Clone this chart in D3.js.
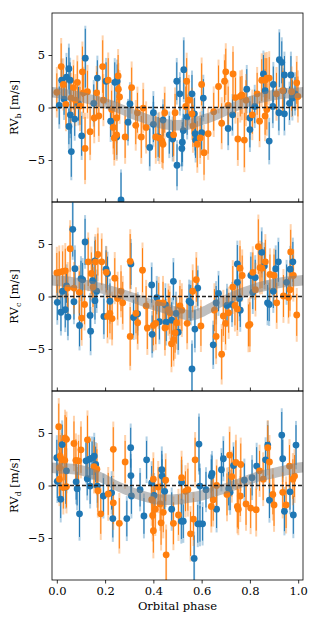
<!DOCTYPE html>
<html lang="en">
<head>
	<meta charset="UTF-8">
	<style>
	body { margin: 0; background: white; }
	svg text { font-family: "DejaVu Serif", "Liberation Serif", serif; }
	</style>
	<script src="https://d3js.org/d3.v7.min.js"></script>
	<title>RV phase folds</title>
</head>
<body>
	<div id="chart"></div>
	<script>
		// Points are [orbital phase, RV in m/s, formal error]
		const blueB = [
			[0.01,0.2,1.8],[0.02,2.6,1.6],[0.04,2.9,1.9],[0.05,3.7,2.0],[0.055,2.6,1.7],[0.03,0.8,1.5],
			[0.056,-0.7,1.8],[0.05,-1.8,1.7],[0.074,-1.1,1.6],[0.06,-4.2,2.4],[0.103,-2.7,1.9],[0.118,4.7,2.8],
			[0.09,0.35,1.6],[0.153,0.4,1.8],[0.168,2.8,1.7],[0.204,2.5,1.8],[0.223,-1.3,1.5],[0.24,2.4,1.9],
			[0.25,2.5,1.6],[0.248,-2.8,1.7],[0.266,-8.8,2.6],[0.295,-1.4,1.8],[0.303,0.35,1.6],[0.385,-3.8,1.8],
			[0.4,-0.5,1.6],[0.4,-1.6,1.7],[0.42,-2.8,1.9],[0.44,-1.2,1.5],[0.466,-2.6,1.8],[0.48,-3.0,1.7],
			[0.498,-5.5,2.0],[0.497,2.5,1.8],[0.51,1.3,1.6],[0.518,-3.9,1.7],[0.52,-3.3,1.9],[0.526,3.6,2.8],
			[0.524,-2.2,1.6],[0.54,-0.9,1.7],[0.56,1.3,1.8],[0.573,-2.5,1.6],[0.57,-0.6,1.5],[0.575,-3.1,1.7],
			[0.6,-2.4,1.6],[0.607,0.9,1.8],[0.71,-2.0,1.6],[0.728,-0.7,1.5],[0.787,1.75,1.9],[0.8,-2.1,1.7],
			[0.8,-1.0,1.6],[0.82,0.1,1.6],[0.856,3.2,1.8],[0.863,1.6,1.6],[0.88,-3.2,1.8],[0.897,2.2,1.7],
			[0.895,0.1,1.6],[0.922,4.55,2.6],[0.932,4.3,2.0],[0.943,3.1,1.8],[0.94,1.6,1.7],[0.943,-0.6,1.6],
			[0.92,-0.5,1.7],[0.97,3.1,1.8],[0.964,0.4,1.6],[0.976,0.9,1.7],[0.987,1.3,1.6]
		];
		const orangeB = [
			[0.0,1.45,1.8],[0.018,3.9,2.2],[0.027,2.2,1.9],[0.038,0.3,2.0],[0.059,0.9,1.8],[0.069,1.9,2.1],
			[0.077,0.7,1.9],[0.085,2.4,2.0],[0.096,0.15,1.8],[0.106,3.4,2.4],[0.11,1.4,1.9],[0.117,-3.9,3.0],
			[0.127,1.5,2.0],[0.138,-2.3,2.2],[0.155,-1.0,1.8],[0.165,1.4,2.0],[0.174,-0.8,1.9],[0.19,3.9,2.5],
			[0.193,0.7,1.9],[0.213,2.6,2.1],[0.227,-0.2,1.8],[0.234,-1.9,2.0],[0.238,-2.9,2.1],[0.248,-2.6,1.9],
			[0.254,3.0,2.0],[0.255,1.75,1.9],[0.26,1.0,2.0],[0.248,-1.0,1.8],[0.283,-2.8,2.0],[0.31,1.9,1.9],
			[0.327,-1.7,1.8],[0.334,-0.5,1.9],[0.35,-2.8,2.0],[0.358,-0.05,1.8],[0.37,-1.9,1.9],[0.41,-2.8,2.0],
			[0.425,-2.9,1.9],[0.436,-3.2,2.0],[0.44,-3.5,1.8],[0.447,-0.5,1.9],[0.49,-0.5,1.8],[0.484,-2.6,2.0],
			[0.538,2.5,2.2],[0.534,0.1,1.9],[0.547,0.7,1.8],[0.56,-0.6,1.9],[0.564,-1.75,2.0],[0.582,-3.5,2.2],
			[0.594,-2.9,1.9],[0.6,2.2,2.0],[0.61,-4.3,2.1],[0.627,-2.5,1.9],[0.65,-0.4,1.8],[0.67,2.0,2.0],
			[0.683,-1.5,1.9],[0.695,2.5,2.0],[0.7,3.4,2.2],[0.71,0.2,1.8],[0.73,3.2,2.1],[0.74,0.95,1.9],
			[0.75,-3.0,2.0],[0.76,1.05,1.9],[0.767,1.2,1.8],[0.777,-3.1,2.6],[0.784,0.7,1.9],[0.81,-0.7,1.8],
			[0.83,1.3,2.0],[0.84,-1.3,1.9],[0.849,2.6,2.0],[0.863,2.6,2.1],[0.87,2.8,1.9],[0.88,2.8,2.0],
			[0.863,-0.8,1.8],[0.87,-0.2,1.9],[0.91,1.3,2.0],[0.936,1.6,1.9],[0.973,1.5,1.8],[0.994,2.35,2.0],
			[0.999,1.05,1.9]
		];
		const blueC = [
			[0.002,-0.55,1.7],[0.017,-1.5,1.8],[0.024,0.5,1.6],[0.035,-1.25,1.7],[0.046,-1.95,1.8],[0.04,1.0,1.6],
			[0.066,6.4,2.6],[0.071,-0.5,1.7],[0.075,2.65,1.8],[0.094,-2.75,2.0],[0.1,1.7,1.7],[0.117,5.2,2.2],
			[0.107,1.6,1.6],[0.138,-1.8,1.7],[0.14,-3.3,1.9],[0.148,1.5,1.6],[0.158,-0.4,1.8],[0.165,0.5,1.6],
			[0.158,3.4,1.9],[0.195,-1.9,1.7],[0.204,2.6,1.8],[0.21,2.2,1.6],[0.22,-0.45,1.7],[0.307,3.1,2.0],
			[0.318,-2.0,1.7],[0.335,-1.65,1.6],[0.393,1.1,1.7],[0.395,-3.6,1.8],[0.414,-0.1,1.6],[0.425,-2.4,1.7],
			[0.45,-0.8,1.6],[0.453,-2.45,1.8],[0.476,-2.25,1.7],[0.483,1.45,1.8],[0.494,-1.6,1.6],[0.503,-3.4,1.7],
			[0.548,-0.45,1.6],[0.555,-0.6,1.7],[0.56,-6.9,2.4],[0.572,-3.1,1.8],[0.584,0.8,1.7],[0.648,-4.6,1.9],
			[0.66,-0.6,1.6],[0.67,0.3,1.7],[0.705,-0.85,1.6],[0.726,-0.75,1.7],[0.748,3.1,1.8],[0.748,1.35,1.6],
			[0.757,-0.2,1.7],[0.76,-1.3,1.6],[0.804,2.0,1.8],[0.812,0.4,1.6],[0.822,1.8,1.7],[0.849,4.2,2.0],
			[0.86,2.9,1.8],[0.873,-0.6,1.7],[0.88,-0.75,1.6],[0.907,2.65,1.8],[0.918,3.3,1.9],[0.897,0.5,1.6],
			[0.952,1.35,1.7],[0.967,2.6,1.8],[0.978,3.3,1.9]
		];
		const orangeC = [
			[0.0,2.25,1.9],[0.01,2.3,2.0],[0.024,2.4,1.9],[0.035,2.45,2.1],[0.045,0.8,1.9],[0.055,4.55,2.2],
			[0.071,0.8,1.9],[0.093,0.4,2.0],[0.103,-2.05,2.1],[0.115,-0.75,1.9],[0.13,3.3,2.3],[0.143,2.2,2.0],
			[0.15,0.9,1.9],[0.16,3.3,2.1],[0.17,4.0,2.0],[0.186,3.3,2.2],[0.205,2.3,1.9],[0.21,-1.9,2.0],
			[0.22,-1.6,1.9],[0.229,-2.1,2.0],[0.24,1.75,1.9],[0.252,-0.2,2.0],[0.266,0.5,1.9],[0.273,-0.6,2.0],
			[0.304,3.35,2.6],[0.304,-3.8,2.8],[0.328,-1.6,1.9],[0.335,-2.5,2.0],[0.355,2.5,2.1],[0.37,-0.9,1.9],
			[0.375,-3.0,2.0],[0.4,-2.75,1.9],[0.41,-2.55,2.0],[0.422,-0.6,1.9],[0.44,-0.6,2.0],[0.448,-3.0,2.1],
			[0.462,-1.25,1.9],[0.468,-1.55,2.0],[0.475,-4.5,2.2],[0.484,-4.1,2.0],[0.49,-3.45,1.9],[0.496,-2.5,2.0],
			[0.51,-0.9,1.9],[0.518,-1.3,2.0],[0.54,-2.55,1.9],[0.563,0.5,2.0],[0.578,1.6,2.1],[0.597,-2.8,1.9],
			[0.653,-1.3,2.0],[0.66,-3.8,2.1],[0.683,-5.5,2.4],[0.69,-1.85,1.9],[0.699,-2.55,2.0],[0.712,-1.55,1.9],
			[0.729,0.9,2.0],[0.738,-0.85,1.9],[0.748,-1.2,2.0],[0.759,2.7,2.1],[0.768,2.0,1.9],[0.794,-2.75,2.0],
			[0.8,-2.65,2.1],[0.812,2.3,1.9],[0.823,0.65,2.0],[0.835,4.75,2.6],[0.842,2.75,2.0],[0.85,2.7,1.9],
			[0.864,3.3,2.1],[0.883,2.1,1.9],[0.9,2.0,2.0],[0.911,-0.6,1.9],[0.939,0.05,2.0],[0.96,-0.1,1.9],
			[0.966,0.65,2.0],[0.969,4.25,2.1],[0.98,2.0,1.9],[0.994,-1.75,2.0]
		];
		const blueD = [
			[0.0,2.65,1.7],[0.002,0.4,1.6],[0.016,-1.3,1.8],[0.022,3.9,1.9],[0.04,1.4,1.7],[0.037,-0.15,1.6],
			[0.08,0.35,1.7],[0.084,-0.3,1.6],[0.094,-2.7,2.2],[0.121,2.35,1.7],[0.126,0.65,1.6],[0.135,2.5,1.8],
			[0.138,-0.05,1.7],[0.146,2.6,1.6],[0.155,2.8,1.8],[0.161,2.0,1.7],[0.168,-0.05,1.6],[0.193,-1.0,1.7],
			[0.227,-0.7,1.6],[0.232,-3.15,1.8],[0.29,-3.15,1.7],[0.306,3.6,1.9],[0.307,0.95,1.6],[0.309,-1.0,1.7],
			[0.345,-0.4,1.6],[0.361,-2.9,1.7],[0.372,2.45,1.8],[0.393,0.25,1.6],[0.403,-0.95,1.7],[0.435,1.5,1.8],
			[0.436,0.9,1.6],[0.447,-0.55,1.7],[0.476,-2.25,1.6],[0.516,-3.4,1.7],[0.524,-3.4,1.6],[0.517,0.3,1.7],
			[0.569,-6.95,2.2],[0.589,3.95,2.6],[0.593,-0.05,1.7],[0.584,-3.65,1.8],[0.593,-3.65,1.7],[0.604,-3.65,1.6],
			[0.618,-0.4,1.7],[0.64,0.9,1.6],[0.643,1.15,1.7],[0.662,-2.25,1.8],[0.682,1.5,1.6],[0.69,2.55,1.7],
			[0.712,-0.3,1.6],[0.718,-0.65,1.7],[0.732,1.9,1.8],[0.777,0.5,1.6],[0.809,0.75,1.7],[0.828,1.85,1.8],
			[0.865,2.45,1.7],[0.874,3.85,1.9],[0.881,-1.4,1.7],[0.932,4.8,2.2],[0.936,2.55,1.8],[0.943,-2.45,1.9],
			[0.966,-0.6,1.7],[0.98,-2.8,1.8],[0.991,3.85,1.9]
		];
		const orangeD = [
			[0.008,5.6,2.2],[0.014,2.8,2.0],[0.011,1.7,1.9],[0.011,0.6,2.0],[0.02,2.5,1.9],[0.027,-0.2,2.0],
			[0.034,4.5,2.2],[0.04,4.4,2.1],[0.033,2.4,1.9],[0.04,-0.1,2.0],[0.071,4.0,2.1],[0.079,2.4,2.0],
			[0.09,2.35,1.9],[0.1,3.4,2.2],[0.127,4.35,2.3],[0.154,1.8,2.0],[0.166,1.55,1.9],[0.17,-0.5,2.0],
			[0.182,-2.7,1.9],[0.213,-0.8,2.0],[0.234,3.45,2.1],[0.234,-1.65,2.0],[0.259,-3.6,2.4],[0.283,2.25,2.0],
			[0.393,-1.35,1.9],[0.4,0.6,2.0],[0.397,-2.85,1.9],[0.4,-4.3,2.1],[0.408,-2.25,2.0],[0.42,-0.15,1.9],
			[0.428,-1.75,2.0],[0.432,-3.55,2.1],[0.441,-2.55,1.9],[0.451,0.5,2.0],[0.453,-6.6,2.4],[0.483,-3.6,2.0],
			[0.504,-2.8,1.9],[0.517,0.75,2.0],[0.533,-0.55,1.9],[0.543,-0.4,2.0],[0.554,-4.6,2.1],[0.566,-3.2,2.0],
			[0.573,2.45,2.1],[0.64,-2.0,1.9],[0.648,-1.35,2.0],[0.662,0.0,1.9],[0.705,-0.85,2.0],[0.716,2.9,2.2],
			[0.725,0.85,1.9],[0.748,-2.0,2.0],[0.742,2.2,2.1],[0.752,-2.25,1.9],[0.762,2.0,2.0],[0.76,-1.0,1.9],
			[0.784,-1.75,2.0],[0.803,-2.15,1.9],[0.826,-2.3,2.0],[0.84,1.4,1.9],[0.855,0.6,2.0],[0.874,3.6,2.1],
			[0.881,2.25,2.0],[0.895,-0.85,1.9],[0.9,-1.85,2.0],[0.936,-0.65,1.9],[0.95,-1.85,2.2],[0.964,1.85,2.0],
			[0.978,0.6,1.9],[0.985,0.9,2.0]
		];

		// Extra jitter term of each instrument (light part of the error bars)
		const jitterBlue = 1.3;
		const jitterOrange = 1.6;

		// Posterior model band: centre on a phase grid, and half width
		const modelPhase = [-0.02,0,0.05,0.1,0.15,0.2,0.25,0.3,0.35,0.4,0.45,0.5,0.55,0.6,0.65,0.7,0.75,0.8,0.85,0.9,0.95,1.0,1.02];
		const modelB = [1.45,1.4,1.2,1.0,0.7,0.4,0.0,-0.5,-0.9,-1.3,-1.6,-1.7,-1.6,-1.2,-0.8,-0.3,0.2,0.6,0.95,1.2,1.35,1.4,1.45];
		const modelC = [1.55,1.5,1.4,1.2,0.95,0.7,0.35,0.0,-0.4,-0.8,-1.15,-1.5,-1.8,-1.5,-0.9,-0.3,0.2,0.6,0.95,1.2,1.4,1.5,1.55];
		const modelD = [1.7,1.65,1.6,1.45,1.1,0.6,-0.05,-0.55,-0.95,-1.25,-1.35,-1.3,-1.15,-0.95,-0.6,-0.25,0.15,0.6,0.95,1.2,1.45,1.7,1.75];
		const bandHalf = [0.5, 0.5, 0.5];

		const panelNames = ["b", "c", "d"];
		const yTicks = [-5, 0, 5];
		const xTicks = [0, 0.2, 0.4, 0.6, 0.8, 1.0];

		const panels = [
			{ name: panelNames[0], blue: blueB, orange: orangeB, model: modelB, half: bandHalf[0] },
			{ name: panelNames[1], blue: blueC, orange: orangeC, model: modelC, half: bandHalf[1] },
			{ name: panelNames[2], blue: blueD, orange: orangeD, model: modelD, half: bandHalf[2] }
		];

		// Setting up the canvas
		const width = 316, height = 622;
		const margin = { left: 52, right: 13, top: 13 };
		const panelHeight = 189;
		const font = "DejaVu Serif, Liberation Serif, serif";

		const svg = d3.select("#chart")
			.append("svg")
			.attr("width", width)
			.attr("height", height);

		const x = d3.scaleLinear()
			.domain([-0.02, 1.02])
			.range([margin.left, width - margin.right]);

		panels.forEach(function(p, i) {
			const top = margin.top + i * panelHeight;
			const y = d3.scaleLinear()
				.domain([-9, 9])
				.range([top + panelHeight, top]);

			const clipId = "clip" + i;
			svg.append("clipPath")
				.attr("id", clipId)
				.append("rect")
				.attr("x", margin.left)
				.attr("y", top)
				.attr("width", width - margin.right - margin.left)
				.attr("height", panelHeight);

			const g = svg.append("g").attr("clip-path", "url(#" + clipId + ")");

			// Adding error bars and points for both instruments
			const series = [
				{ data: p.blue, color: "#1f77b4", jit: jitterBlue },
				{ data: p.orange, color: "#ff7f0e", jit: jitterOrange }
			];
			series.forEach(function(s) {
				// light part: error with jitter added in quadrature
				g.append("g")
					.selectAll("line")
					.data(s.data)
					.join("line")
					.attr("x1", d => x(d[0]))
					.attr("x2", d => x(d[0]))
					.attr("y1", d => y(d[1] + Math.sqrt(d[2] * d[2] + s.jit * s.jit)))
					.attr("y2", d => y(d[1] - Math.sqrt(d[2] * d[2] + s.jit * s.jit)))
					.attr("stroke", s.color)
					.attr("stroke-opacity", 0.35)
					.attr("stroke-width", 2);
				// formal error
				g.append("g")
					.selectAll("line")
					.data(s.data)
					.join("line")
					.attr("x1", d => x(d[0]))
					.attr("x2", d => x(d[0]))
					.attr("y1", d => y(d[1] + d[2]))
					.attr("y2", d => y(d[1] - d[2]))
					.attr("stroke", s.color)
					.attr("stroke-width", 1);
			});
			series.forEach(function(s) {
				g.append("g")
					.selectAll("circle")
					.data(s.data)
					.join("circle")
					.attr("cx", d => x(d[0]))
					.attr("cy", d => y(d[1]))
					.attr("r", 3.4)
					.attr("fill", s.color);
			});

			// Adding the model band on top
			const band = d3.area()
				.x((d, k) => x(modelPhase[k]))
				.y0(d => y(d - p.half))
				.y1(d => y(d + p.half))
				.curve(d3.curveMonotoneX);
			g.append("path")
				.datum(p.model)
				.attr("d", band)
				.attr("fill", "#808080")
				.attr("fill-opacity", 0.5);

			// Dashed zero line
			g.append("line")
				.attr("x1", margin.left)
				.attr("x2", width - margin.right)
				.attr("y1", y(0))
				.attr("y2", y(0))
				.attr("stroke", "#222")
				.attr("stroke-width", 1.5)
				.attr("stroke-dasharray", "4,2");

			// Adding the y-axis
			const yAxis = svg.append("g")
				.attr("transform", "translate(" + margin.left + ",0)")
				.call(d3.axisLeft(y).tickValues(yTicks).tickSize(3.5).tickPadding(3.5)
					.tickFormat(d => d < 0 ? "\u2212" + Math.abs(d) : d));
			yAxis.select(".domain").remove();
			yAxis.selectAll("text").attr("font-size", 11.5).attr("font-family", font);
			yAxis.selectAll("line").attr("stroke-width", 0.8);

			// Adding the x ticks
			const last = i === panels.length - 1;
			const xAxis = svg.append("g")
				.attr("transform", "translate(0," + (top + panelHeight) + ")")
				.call(d3.axisBottom(x).tickValues(xTicks)
					.tickSize(last ? 3.5 : -3.5).tickPadding(3.5)
					.tickFormat(last ? d3.format(".1f") : ""));
			xAxis.select(".domain").remove();
			xAxis.selectAll("text").attr("font-size", 11.5).attr("font-family", font);
			xAxis.selectAll("line").attr("stroke-width", 0.8);

			// Frame
			svg.append("rect")
				.attr("x", margin.left)
				.attr("y", top)
				.attr("width", width - margin.right - margin.left)
				.attr("height", panelHeight)
				.attr("fill", "none")
				.attr("stroke", "#000")
				.attr("stroke-width", 0.8);

			// Y label with subscript
			const label = svg.append("text")
				.attr("transform", "translate(18," + (top + panelHeight / 2) + ") rotate(-90)")
				.attr("text-anchor", "middle")
				.attr("font-family", font)
				.attr("font-size", 11.5);
			label.append("tspan").text("RV");
			label.append("tspan").attr("font-size", 8).attr("dy", 2.5).text(p.name);
			label.append("tspan").attr("dy", -2.5).text(" [m/s]");
		});

		// X label
		svg.append("text")
			.attr("x", x(0.5))
			.attr("y", 610)
			.attr("text-anchor", "middle")
			.attr("font-family", font)
			.attr("font-size", 11.5)
			.text("Orbital phase");
	</script>
</body>
</html>
